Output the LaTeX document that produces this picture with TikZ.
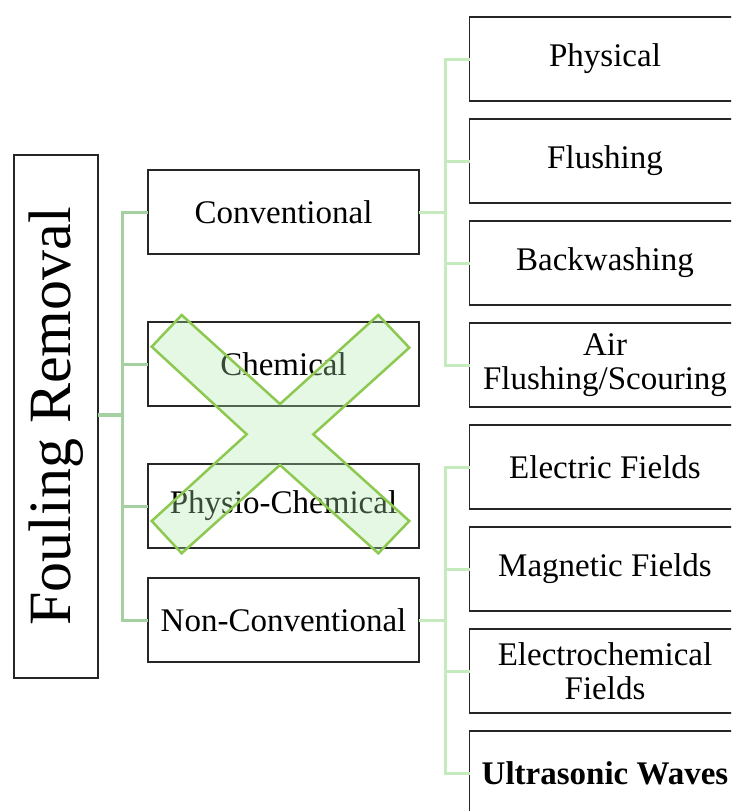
\documentclass[tikz,border=0pt]{standalone}
\usepackage{fontspec}
\setmainfont{Liberation Serif}
\usetikzlibrary{positioning}
\definecolor{trunkgreen}{RGB}{165,209,162}
\definecolor{leafgreen}{RGB}{196,234,190}
\definecolor{crossline}{RGB}{141,200,80}
\definecolor{crossfill}{RGB}{172,234,170}

\begin{document}
\begin{tikzpicture}[x=1pt, y=-1pt,
  node distance=18pt,
  box/.style={draw=black!85, line width=1.3pt, fill=white, outer sep=0pt, inner sep=2pt,
    minimum width=271pt, minimum height=84pt, align=center, font=\fontsize{33}{34}\selectfont},
  trunk/.style={draw=trunkgreen, line width=3pt},
  leaf/.style={draw=leafgreen, line width=3pt},
  cross/.style={draw=crossline, line width=2.5pt, fill=crossfill, fill opacity=0.32, line join=miter}
]
\clip (0,0) rectangle (731,811);
\node[box, minimum width=84pt, minimum height=523pt] (root) at (56,416.5) {\rotatebox{90}{\fontsize{60}{60}\selectfont Fouling Removal}};
\node[box] (conv) at (283.5,212) {Conventional};
\node[box] (chem) at (283.5,364) {Chemical};
\node[box] (phch) at (283.5,506) {Physio-Chemical};
\node[box] (ncon) at (283.5,620) {Non-Conventional};
\node[box] (phy) at (605,59) {Physical};
\node[box, below=of phy] (flu) {Flushing};
\node[box, below=of flu] (bw) {Backwashing};
\node[box, below=of bw] (air) {Air\\Flushing/Scouring};
\node[box, below=of air] (ef) {Electric Fields};
\node[box, below=of ef] (mf) {Magnetic Fields};
\node[box, below=of mf] (ecf) {Electrochemical\\Fields};
\node[box, below=of ecf] (uw) {\textbf{Ultrasonic Waves}};
\draw[trunk, line width=4pt] (root.east |- 0,415) -- (122,415) coordinate (rj);
\foreach \n in {conv,chem,phch,ncon}
  \draw[trunk] (rj) |- (\n.west);
\draw[leaf] (conv.east) -- ++(26,0) coordinate (cj);
\foreach \n in {phy,flu,bw,air}
  \draw[leaf] (cj) |- (\n.west);
\draw[leaf] (ncon.east) -- ++(26,0) coordinate (nj);
\foreach \n in {ef,mf,ecf,uw}
  \draw[leaf] (nj) |- (\n.west);
\draw[cross] (151.7,346.7) -- (181.7,315) -- (280,404) -- (378.3,315) -- (409.3,347.7)
  -- (313.3,434.3) -- (409.3,521) -- (378.3,553.3) -- (280,465) -- (181.7,553.3)
  -- (151.7,521) -- (246.7,434.3) -- cycle;
\end{tikzpicture}
\end{document}
